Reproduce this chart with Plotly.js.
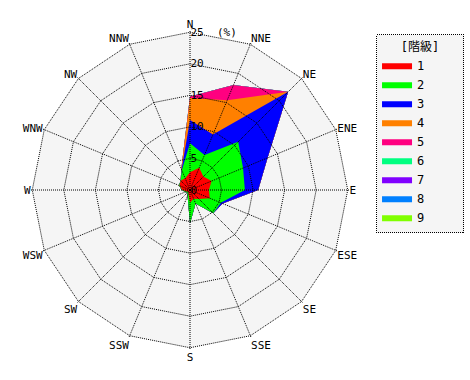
<!DOCTYPE html>
<html><head><meta charset="utf-8">
<script src="https://cdn.plot.ly/plotly-3.0.1.min.js"></script>
<style>body{margin:0;background:#fff}</style>
</head><body><div id="chart" style="width:470px;height:380px"></div>
<script>
const directions = ['N','NNE','NE','ENE','E','ESE','SE','SSE','S','SSW','SW','WSW','W','WNW','NW','NNW'];
const classNames = ['1','2','3','4','5','6','7','8','9'];
const classColors = ['#ff0000','#00ff00','#0000ff','#ff8000','#ff0080','#00ff80','#8000ff','#0080ff','#80ff00'];
// frequency (%) per class and direction
const class1 = [2.8, 3.8, 3.0, 3.7, 3.0, 3.4, 2.0, 1.5, 2.0, 0.6, 0.4, 0.6, 1.2, 1.8, 2.1, 2.0];
const class2 = [4.6, 2.2, 7.8, 5.4, 5.7, 1.9, 3.2, 0.8, 3.3, 0.4, 0.2, 0.2, 0.1, 0.1, 0.0, 1.4];
const class3 = [3.7, 3.5, 11.2, 4.2, 2.1, 0.3, 0.0, 0.0, 0.0, 0.0, 0.0, 0.0, 0.0, 0.0, 0.0, 0.1];
const class4 = [3.5, 5.9, 0.0, 0.0, 0.0, 0.0, 0.0, 0.0, 0.0, 0.0, 0.0, 0.0, 0.0, 0.0, 0.0, 0.1];
const class5 = [0.2, 2.6, 0.0, 0.0, 0.0, 0.0, 0.0, 0.0, 0.0, 0.0, 0.0, 0.0, 0.0, 0.0, 0.0, 0.0];
const class6 = [0, 0, 0, 0, 0, 0, 0, 0, 0, 0, 0, 0, 0, 0, 0, 0];
const class7 = [0, 0, 0, 0, 0, 0, 0, 0, 0, 0, 0, 0, 0, 0, 0, 0];
const class8 = [0, 0, 0, 0, 0, 0, 0, 0, 0, 0, 0, 0, 0, 0, 0, 0];
const class9 = [0, 0, 0, 0, 0, 0, 0, 0, 0, 0, 0, 0, 0, 0, 0, 0];
const radialTickVals = [0, 5, 10, 15, 20, 25];
const radialTickText = ['0', '5', '10', '15', '20', '25  (%)'];
const legendTitle = '\u00a0\u00a0\u00a0[階級]\u00a0\u00a0\u00a0';

const classes = [class1, class2, class3, class4, class5, class6, class7, class8, class9];
const cumulative = [];
let running = directions.map(() => 0);
classes.forEach(c => { running = running.map((v, i) => v + c[i]); cumulative.push(running.slice()); });

const FONT = 'DejaVu Sans Mono, Noto Sans CJK JP, monospace';
const traces = [];
for (let k = classes.length - 1; k >= 0; k--) {
  traces.push({
    type: 'scatterpolar', subplot: 'polar',
    r: cumulative[k].concat([cumulative[k][0]]),
    theta: directions.concat([directions[0]]),
    mode: 'lines', fill: 'toself',
    fillcolor: classColors[k],
    line: {color: classColors[k], width: 0},
    name: classNames[k], hoverinfo: 'skip'
  });
}
traces.push({
  type: 'scatterpolar', subplot: 'polar2',
  r: directions.map(() => 0), theta: directions,
  mode: 'markers', marker: {opacity: 0, size: 1},
  showlegend: false, hoverinfo: 'skip'
});

const DOT = '1px,1px';
const RMAX = 25.2;
const inner = (1 - 25 / RMAX) / 2;
const angCommon = {type: 'category', categoryorder: 'array', categoryarray: directions,
  direction: 'clockwise', rotation: 90, ticks: ''};
const layout = {
  width: 470, height: 380, autosize: false,
  margin: {l: 31, r: 121, t: 31, b: 31, autoexpand: false},
  paper_bgcolor: '#ffffff',
  font: {family: FONT, size: 11, color: '#000'},
  polar: {
    domain: {x: [inner, 1 - inner], y: [inner, 1 - inner]}, bgcolor: '#f5f5f5', gridshape: 'linear',
    angularaxis: Object.assign({}, angCommon, {showgrid: false, showline: false, showticklabels: false}),
    radialaxis: {range: [0, 25], showgrid: false, showline: false, showticklabels: false, ticks: ''}
  },
  polar2: {
    domain: {x: [0, 1], y: [0, 1]}, bgcolor: 'rgba(0,0,0,0)', gridshape: 'linear',
    angularaxis: Object.assign({}, angCommon, {showgrid: true, gridcolor: '#000', griddash: DOT, gridwidth: 1,
      showline: false, tickfont: {family: FONT, size: 11, color: '#000'}}),
    radialaxis: {range: [0, RMAX], angle: 90, tickangle: 90, tickvals: radialTickVals, ticktext: radialTickText,
      showgrid: true, gridcolor: '#000', griddash: DOT, gridwidth: 1, showline: false, ticks: '',
      tickfont: {family: FONT, size: 11, color: '#000'}}
  },
  showlegend: true,
  legend: {x: 1.085, y: 0.99, xanchor: 'left', yanchor: 'top', bgcolor: '#f5f5f5',
    bordercolor: '#000', borderwidth: 1, traceorder: 'reversed',
    title: {text: legendTitle, side: 'top center', font: {family: FONT, size: 12}},
    font: {family: FONT, size: 12, color: '#000'}}
};
Plotly.newPlot('chart', traces, layout, {displayModeBar: false, staticPlot: true}).then(() => {
  document.querySelectorAll('.legend rect.bg').forEach(r => { r.style.strokeDasharray = '1,1'; });
});
</script></body></html>
